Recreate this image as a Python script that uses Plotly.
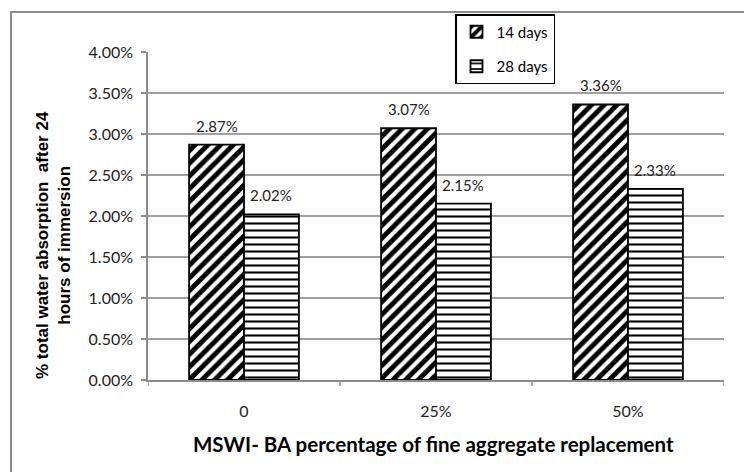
import plotly.graph_objects as go

# Water absorption after 24 h immersion, by MSWI-BA replacement level
categories = ["0", "25%", "50%"]
days14 = [0.0287, 0.0307, 0.0336]
days28 = [0.0202, 0.0215, 0.0233]
series_names = ["14 days", "28 days"]
y_ticks = [0.0, 0.005, 0.01, 0.015, 0.02, 0.025, 0.03, 0.035, 0.04]

W, H = 744, 472
ML, MR, MT, MB = 148, 20, 52, 92
PW, PH = W - ML - MR, H - MT - MB

LABEL_FONT = "Lato, Carlito, Calibri, sans-serif"
BAR_W = 0.286  # width of each bar in category units

patterns = [
    dict(shape="/", fgcolor="black", bgcolor="white", size=9, solidity=0.55, fgopacity=1),
    dict(shape="-", fgcolor="black", bgcolor="white", size=7, solidity=0.3, fgopacity=1),
]

fig = go.Figure()
for k, (name, vals) in enumerate(zip(series_names, [days14, days28])):
    fig.add_trace(go.Bar(
        x=list(range(len(categories))),
        y=vals,
        name=name,
        width=BAR_W,
        offset=-BAR_W + k * BAR_W,
        marker=dict(color="white", line=dict(color="black", width=1.8),
                    pattern=patterns[k]),
        legendgroup=name,
    ))

# value labels above each bar
annotations = []
for k, vals in enumerate([days14, days28]):
    for i, v in enumerate(vals):
        annotations.append(dict(
            x=i - BAR_W + k * BAR_W + BAR_W / 2, y=v, xref="x", yref="y",
            text=f"{v * 100:.2f}%", showarrow=False, yanchor="bottom",
            yshift=8, font=dict(family=LABEL_FONT, size=15, color="#222"),
        ))

# axis titles
annotations.append(dict(
    x=(53 - ML) / PW, y=(380 - 245) / PH, xref="paper", yref="paper",
    xanchor="center", yanchor="middle",
    text="<b>% total water absorption  after 24<br>hours of immersion</b>",
    textangle=-90, showarrow=False,
    font=dict(family="Liberation Sans, Arial, sans-serif", size=17, color="black"),
))
annotations.append(dict(
    x=(433 - ML) / PW, y=(380 - 444) / PH, xref="paper", yref="paper",
    xanchor="center", yanchor="middle",
    text="<b>MSWI- BA percentage of fine aggregate replacement</b>",
    showarrow=False,
    font=dict(family=LABEL_FONT, size=20.5, color="black"),
))

# outer chart border
shapes = [dict(
    type="rect", xref="paper", yref="paper",
    x0=(11 - ML) / PW, x1=1.2, y0=-0.5, y1=(380 - 12) / PH,
    line=dict(color="#8c8c8c", width=2), fillcolor="rgba(0,0,0,0)", layer="below",
)]

# tick marks between categories on the x axis
for b in [i - 0.5 for i in range(len(categories) + 1)]:
    shapes.append(dict(type="line", xref="x", yref="paper", x0=b, x1=b, y0=0, y1=-6 / PH,
                       line=dict(color="#8c8c8c", width=1.5)))

fig.update_layout(
    width=W, height=H,
    margin=dict(l=ML, r=MR, t=MT, b=MB),
    paper_bgcolor="white", plot_bgcolor="white",
    barmode="group",
    showlegend=True,
    legend=dict(
        x=(455 - ML) / PW, y=(380 - 14) / PH, xanchor="left", yanchor="top",
        bordercolor="black", borderwidth=1.5, bgcolor="white",
        font=dict(family=LABEL_FONT, size=15, color="black"),
        traceorder="grouped", tracegroupgap=12, itemwidth=30,
    ),
    annotations=annotations,
    shapes=shapes,
    xaxis=dict(
        tickmode="array", tickvals=list(range(len(categories))), ticktext=categories,
        range=[-0.5, len(categories) - 0.5],
        showgrid=False, zeroline=False,
        showline=True, linecolor="#8c8c8c", linewidth=1.5,
        ticks="", ticklabelstandoff=16,
        tickfont=dict(family=LABEL_FONT, size=16, color="#222"),
    ),
    yaxis=dict(
        range=[0, 0.04], tickvals=y_ticks, tickformat=".2%",
        showgrid=True, gridcolor="#a0a0a0", gridwidth=1.5,
        zeroline=False,
        showline=True, linecolor="#8c8c8c", linewidth=1.5,
        ticks="outside", ticklen=5, tickcolor="#8c8c8c", tickwidth=1.5,
        ticklabelstandoff=5,
        tickfont=dict(family=LABEL_FONT, size=16, color="#222"),
    ),
)

fig.write_html("out.html")
